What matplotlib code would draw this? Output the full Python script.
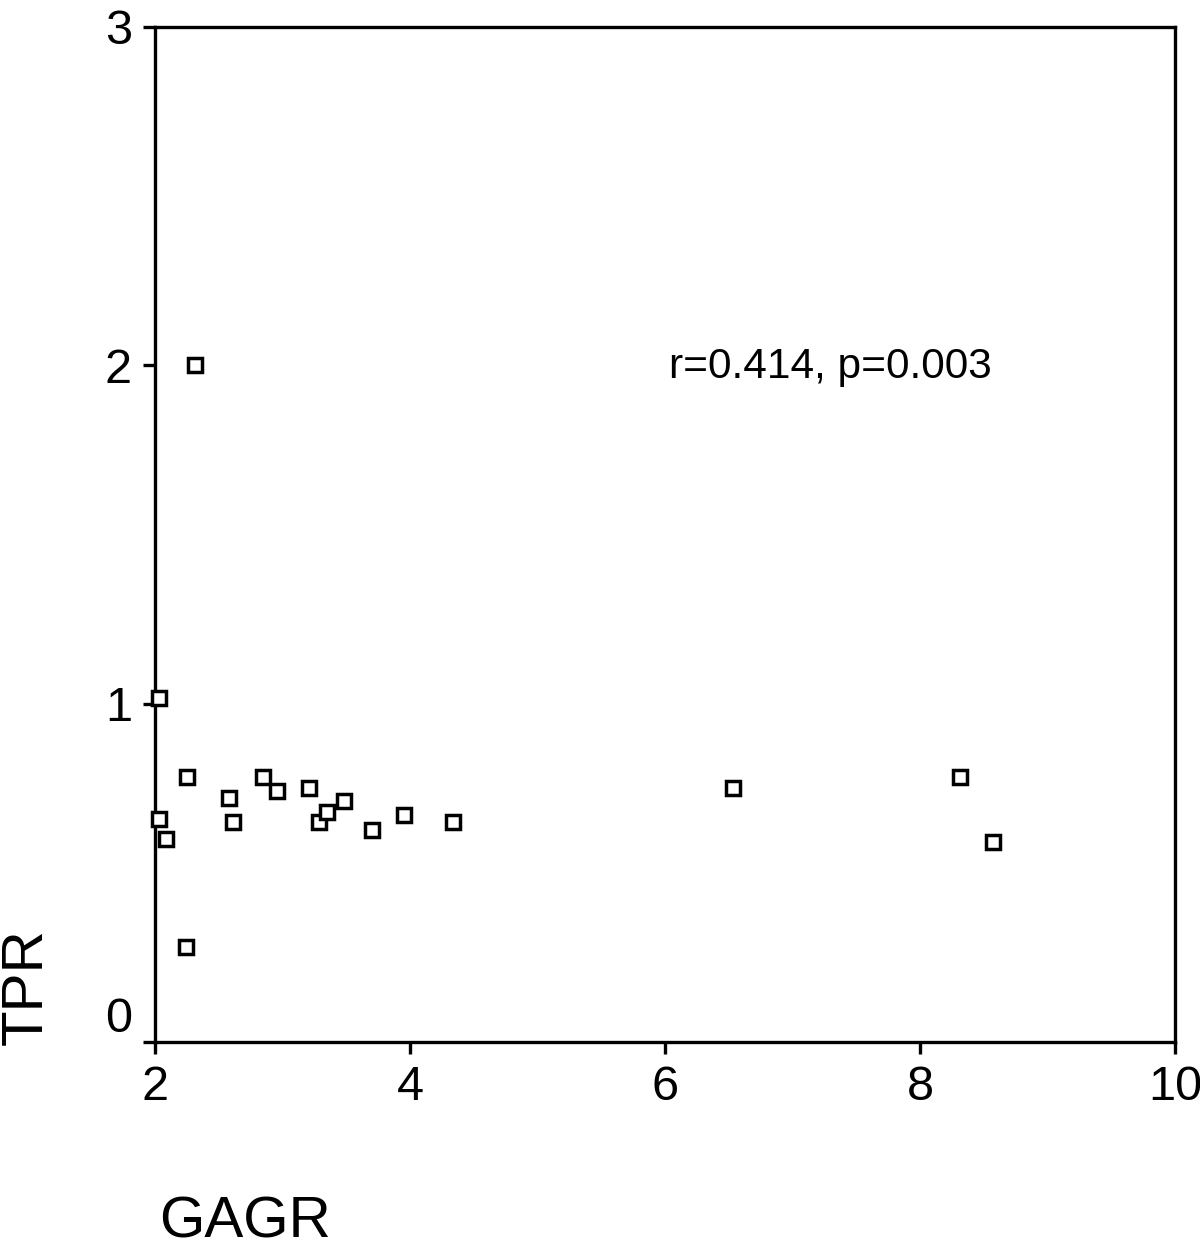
import matplotlib
matplotlib.use('Agg')
import matplotlib.pyplot as plt
import matplotlib.transforms as mtransforms

plt.rcParams['font.family'] = ['Liberation Sans', 'DejaVu Sans']

# GAGR vs TPR values
gagr = [2.31, 2.03, 2.25, 2.03, 2.09, 2.24, 2.58, 2.61, 2.85, 2.96,
        3.21, 3.29, 3.35, 3.48, 3.70, 3.95, 4.34, 6.53, 8.31, 8.57]
tpr = [2.00, 1.017, 0.783, 0.659, 0.600, 0.282, 0.721, 0.649, 0.783, 0.741,
       0.752, 0.649, 0.680, 0.711, 0.627, 0.671, 0.649, 0.751, 0.783, 0.590]
xticks = [2, 4, 6, 8, 10]
yticks = [0, 1, 2, 3]
note = 'r=0.414, p=0.003'

fig = plt.figure(figsize=(12, 12.51), dpi=100)
ax = fig.add_axes([155 / 1200, 1 - 1042 / 1251, 1020 / 1200, 1015 / 1251])

ax.plot(gagr, tpr, linestyle='none', marker='s', markersize=10,
        markerfacecolor='white', markeredgecolor='black', markeredgewidth=2.5,
        clip_on=False, zorder=3)

ax.set_xlim(2, 10)
ax.set_ylim(0, 3)
ax.set_xticks(xticks)
ax.set_yticks(yticks)
for s in ax.spines.values():
    s.set_linewidth(2.4)
ax.tick_params(direction='out', length=8.5, width=2.4, labelsize=35, pad=8)

# the "0" label sits a little higher than its tick
fig.canvas.draw()
ylabels = ax.get_yticklabels()
off = mtransforms.ScaledTranslation(0, 27 / 100, fig.dpi_scale_trans)
ylabels[0].set_transform(ylabels[0].get_transform() + off)

ax.text(6.03, 1.963, note, fontsize=30.5, ha='left', va='baseline')

fig.text(159 / 1200, 2 / 1251, 'GAGR', fontsize=42, ha='left', va='bottom')
fig.text(0 / 1200, 1 - 1045 / 1251, 'TPR', fontsize=42, rotation=90,
         ha='left', va='bottom')

plt.savefig('out.png', dpi=100)
